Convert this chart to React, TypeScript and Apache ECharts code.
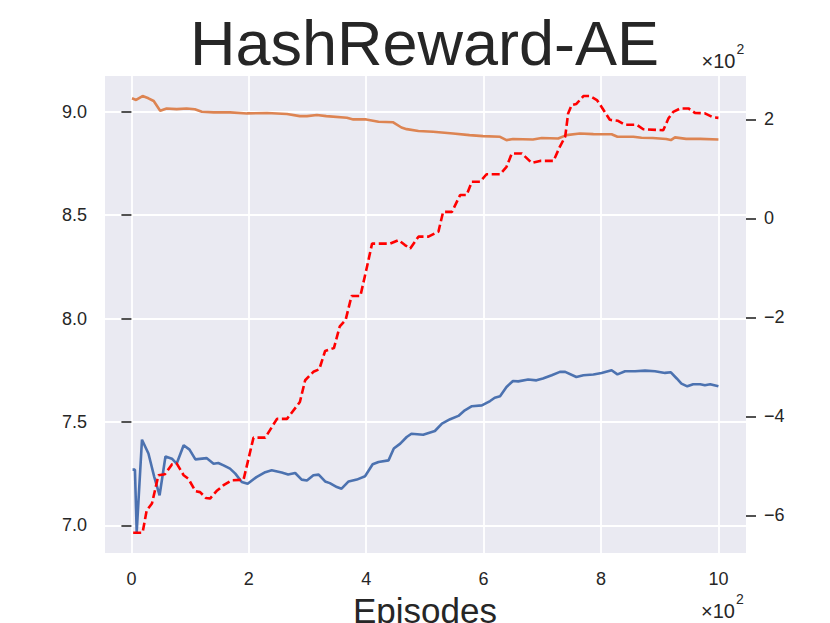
import React, { useEffect, useRef } from "react";
import * as echarts from "echarts";

const titleText = "HashReward-AE";
const xAxisName = "Episodes";

const xTicks = [0, 200, 400, 600, 800, 1000];
const leftTicks = [7.0, 7.5, 8.0, 8.5, 9.0];
const rightTicks = [-600, -400, -200, 0, 200];

const blueX = [2, 6, 9, 18, 29, 39, 48, 58, 69, 77, 89, 99, 109, 128, 140, 148, 157, 168, 177, 188, 198, 213, 228, 239, 256, 267, 279, 290, 299, 310, 319, 330, 338, 350, 358, 370, 384, 398, 411, 421, 438, 447, 458, 469, 477, 497, 517, 529, 543, 557, 568, 580, 597, 611, 619, 628, 639, 650, 659, 676, 690, 701, 716, 730, 739, 758, 770, 787, 801, 818, 828, 841, 858, 875, 892, 909, 919, 929, 937, 947, 957, 969, 977, 986, 1000];
const blueY = [7.269, 7.269, 6.967, 7.414, 7.347, 7.233, 7.145, 7.333, 7.322, 7.298, 7.387, 7.366, 7.319, 7.325, 7.298, 7.301, 7.29, 7.274, 7.25, 7.209, 7.201, 7.233, 7.257, 7.266, 7.255, 7.246, 7.253, 7.221, 7.217, 7.242, 7.245, 7.212, 7.204, 7.185, 7.177, 7.212, 7.221, 7.237, 7.295, 7.306, 7.314, 7.371, 7.395, 7.427, 7.443, 7.438, 7.456, 7.492, 7.513, 7.529, 7.556, 7.576, 7.58, 7.601, 7.617, 7.624, 7.669, 7.698, 7.696, 7.705, 7.701, 7.71, 7.726, 7.742, 7.742, 7.717, 7.726, 7.729, 7.737, 7.75, 7.73, 7.745, 7.745, 7.748, 7.745, 7.737, 7.74, 7.71, 7.685, 7.672, 7.682, 7.682, 7.677, 7.682, 7.672];

const orangeX = [1, 8, 19, 29, 38, 49, 60, 77, 94, 108, 120, 140, 168, 197, 231, 265, 287, 299, 316, 332, 367, 378, 400, 421, 446, 460, 469, 489, 514, 548, 576, 599, 628, 639, 650, 684, 699, 727, 741, 764, 787, 818, 828, 855, 869, 888, 911, 919, 926, 945, 969, 1000];
const orangeY = [9.065, 9.057, 9.076, 9.065, 9.052, 9.005, 9.016, 9.013, 9.016, 9.012, 9.0, 8.997, 8.997, 8.992, 8.994, 8.989, 8.979, 8.979, 8.984, 8.979, 8.971, 8.963, 8.963, 8.952, 8.949, 8.924, 8.916, 8.907, 8.903, 8.895, 8.887, 8.882, 8.879, 8.863, 8.868, 8.866, 8.873, 8.871, 8.887, 8.895, 8.892, 8.891, 8.879, 8.879, 8.874, 8.873, 8.868, 8.863, 8.876, 8.869, 8.869, 8.866];

const redX = [3, 19, 26, 35, 46, 57, 69, 77, 89, 97, 109, 117, 127, 134, 145, 157, 171, 191, 208, 228, 248, 265, 287, 296, 310, 320, 330, 345, 355, 365, 375, 390, 400, 410, 441, 455, 466, 475, 489, 506, 523, 531, 546, 560, 571, 580, 594, 605, 628, 639, 648, 665, 682, 696, 719, 730, 739, 744, 750, 758, 770, 781, 793, 801, 815, 829, 841, 861, 872, 906, 915, 923, 935, 949, 960, 977, 991, 1000];
const redY = [-635, -635, -590, -576, -519, -517, -497, -495, -519, -526, -551, -553, -565, -566, -551, -539, -529, -528, -443, -443, -405, -405, -371, -327, -310, -305, -268, -262, -218, -205, -157, -157, -105, -51, -51, -44, -54, -61, -37, -37, -27, 13, 13, 47, 47, 74, 74, 89, 89, 104, 131, 131, 112, 116, 116, 145, 165, 212, 229, 231, 247, 247, 239, 225, 199, 197, 189, 189, 180, 178, 202, 215, 222, 222, 213, 212, 204, 203];

const FONT = "'Liberation Sans', Arial, Helvetica, sans-serif";
const TEXT = "#262626";

const pair = (xs: number[], ys: number[]) => xs.map((x, i) => [x, ys[i]]);
const minus = (s: string) => s.replace("-", "\u2212");

export default function App() {
  const ref = useRef<HTMLDivElement>(null);
  useEffect(() => {
    if (!ref.current) return;
    const chart = echarts.init(ref.current, undefined, { renderer: "svg" });
    chart.setOption({
      animation: false,
      backgroundColor: "#ffffff",
      grid: {
        left: 105,
        right: 84,
        top: 76,
        bottom: 70,
        show: true,
        backgroundColor: "#EAEAF2",
        borderWidth: 0,
      },
      xAxis: {
        type: "value",
        min: -45,
        max: 1047,
        axisLine: { show: false },
        axisTick: { show: false, customValues: xTicks },
        axisLabel: {
          customValues: xTicks,
          formatter: (v: number) => String(Math.round(v / 100)),
          fontSize: 18,
          fontFamily: FONT,
          color: TEXT,
          margin: 17,
        },
        splitLine: { show: true, lineStyle: { color: "#ffffff", width: 1.8 } },
      },
      yAxis: [
        {
          type: "value",
          min: 6.866,
          max: 9.173,
          position: "left",
          axisLine: { show: false },
          axisTick: {
            show: true,
            customValues: leftTicks,
            length: 10,
            lineStyle: { color: TEXT, width: 1.6 },
          },
          axisLabel: {
            customValues: leftTicks,
            formatter: (v: number) => v.toFixed(1),
            fontSize: 18,
            fontFamily: FONT,
            color: TEXT,
            margin: 18,
          },
          splitLine: { show: true, lineStyle: { color: "#ffffff", width: 1.8 } },
        },
        {
          type: "value",
          min: -676,
          max: 287.5,
          position: "right",
          axisLine: { show: false },
          axisTick: {
            show: true,
            customValues: rightTicks,
            length: 10,
            inside: false,
            lineStyle: { color: TEXT, width: 1.6 },
          },
          axisLabel: {
            customValues: rightTicks,
            formatter: (v: number) => minus(String(Math.round(v / 100))),
            fontSize: 18,
            fontFamily: FONT,
            color: TEXT,
            margin: 18,
          },
          splitLine: { show: false },
        },
      ],
      graphic: [
        {
          type: "text",
          x: 424.5,
          y: 43,
          style: {
            text: titleText,
            fontSize: 63,
            fontFamily: FONT,
            fill: TEXT,
            align: "center",
            verticalAlign: "middle",
          },
        },
        {
          type: "text",
          x: 425,
          y: 610,
          style: {
            text: xAxisName,
            fontSize: 35,
            fontFamily: FONT,
            fill: TEXT,
            align: "center",
            verticalAlign: "middle",
          },
        },
        {
          type: "text",
          x: 735.5,
          y: 61,
          style: { text: "\u00d710", fontSize: 20, fontFamily: FONT, fill: TEXT, align: "right", verticalAlign: "middle" },
        },
        {
          type: "text",
          x: 736.5,
          y: 49,
          style: { text: "2", fontSize: 14, fontFamily: FONT, fill: TEXT, align: "left", verticalAlign: "middle" },
        },
        {
          type: "text",
          x: 735,
          y: 610.5,
          style: { text: "\u00d710", fontSize: 20, fontFamily: FONT, fill: TEXT, align: "right", verticalAlign: "middle" },
        },
        {
          type: "text",
          x: 736,
          y: 598.5,
          style: { text: "2", fontSize: 14, fontFamily: FONT, fill: TEXT, align: "left", verticalAlign: "middle" },
        },
      ],
      series: [
        {
          type: "line",
          name: "blue",
          xAxisIndex: 0,
          yAxisIndex: 0,
          data: pair(blueX, blueY),
          showSymbol: false,
          lineStyle: { color: "#4C72B0", width: 2.6 },
          z: 2,
        },
        {
          type: "line",
          name: "orange",
          xAxisIndex: 0,
          yAxisIndex: 0,
          data: pair(orangeX, orangeY),
          showSymbol: false,
          lineStyle: { color: "#DD8452", width: 2.6 },
          z: 3,
        },
        {
          type: "line",
          name: "red",
          xAxisIndex: 0,
          yAxisIndex: 1,
          data: pair(redX, redY),
          showSymbol: false,
          lineStyle: { color: "#FF0000", width: 2.6, type: [8, 3.6] },
          z: 4,
        },
      ],
    });
    return () => chart.dispose();
  }, []);
  return (
    <div
      ref={ref}
      style={{ position: "fixed", left: 0, top: 0, width: 830, height: 623 }}
    />
  );
}
